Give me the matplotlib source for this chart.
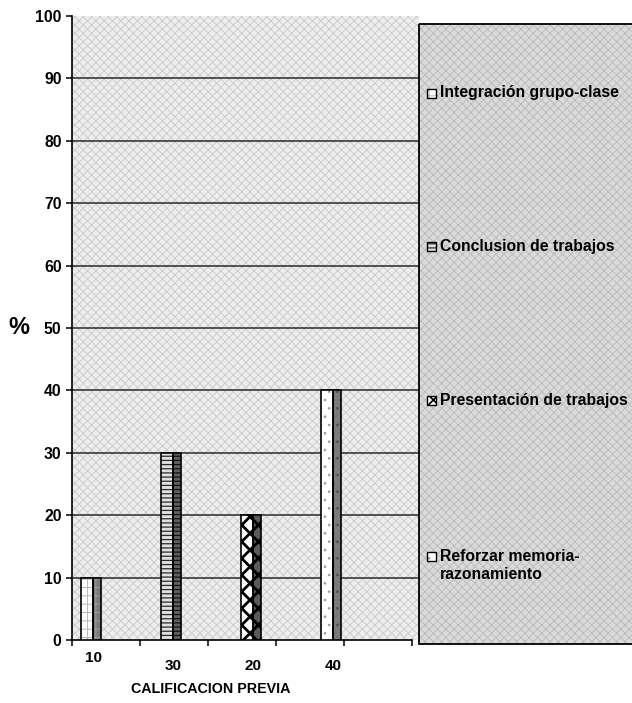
import matplotlib
matplotlib.use("Agg")
import matplotlib.pyplot as plt
import matplotlib.transforms as mtransforms
from matplotlib.patches import Rectangle
import numpy as np

plt.rcParams["font.family"] = ["Liberation Sans", "DejaVu Sans"]
plt.rcParams["font.weight"] = "bold"
plt.rcParams["hatch.linewidth"] = 0.7

# ---- data -------------------------------------------------------------
series = [
    "Integración grupo-clase",
    "Conclusion de trabajos",
    "Presentación de trabajos",
    "Reforzar memoria-\nrazonamiento",
]
values = [10, 30, 20, 40]
category_labels = ["10", "30", "20", "40"]
y_ticks = list(range(0, 101, 10))
y_label = "%"
x_label = "CALIFICACION PREVIA"

# ---- fill styles for each series (front face / shaded side face) -----
styles = [
    dict(face="#ffffff", hatch="++", hcol="#b8b8b8", side="#7a7a7a", shatch="++", shcol="#9a9a9a", hlw=0.7),
    dict(face="#e0e0e0", hatch="----", hcol="#2a2a2a", side="#606060", shatch="----", shcol="#101010", hlw=0.9),
    dict(face="#ffffff", hatch="xx", hcol="#000000", side="#5a5a5a", shatch="xx", shcol="#000000", hlw=2.0),
    dict(face="#ffffff", hatch="..", hcol="#a0a0a0", side="#7a7a7a", shatch="..", shcol="#505050", hlw=0.7),
]


def hatched(xy, w, h, face, hcol, hatch, hlw, z, **kw):
    p = Rectangle(xy, w, h, facecolor=face, edgecolor=hcol, hatch=hatch,
                  linewidth=0, zorder=z, **kw)
    if hasattr(p, "set_hatch_linewidth"):
        p.set_hatch_linewidth(hlw)
    return p


W, H = 632, 703
fig = plt.figure(figsize=(W / 100, H / 100), dpi=100)
fig.patch.set_facecolor("white")

# ---- plot area ---------------------------------------------------------
ax = fig.add_axes([72 / W, 1 - 640 / H, (419 - 72) / W, (640 - 16) / H])
ax.set_facecolor("#eeeeee")
ax.add_patch(hatched((0, 0), 1, 1, "none", "#cdcdcd", "xxxx", 0.7, 0.5,
                     transform=ax.transAxes))
x0, x1 = -0.184, 4.154
ax.set_xlim(x0, x1)
ax.set_ylim(0, 100)

for t in y_ticks[1:-1]:
    ax.axhline(t, color="#2a2a2a", linewidth=1.1, zorder=1)

front_w, side_w = 0.15, 0.107
for i, (v, st) in enumerate(zip(values, styles)):
    # front face
    ax.add_patch(hatched((i - front_w / 2, 0), front_w, v, st["face"], st["hcol"],
                         st["hatch"], st["hlw"], 3))
    ax.add_patch(Rectangle((i - front_w / 2, 0), front_w, v, facecolor="none",
                           edgecolor="black", linewidth=1.2, zorder=4))
    # side face giving the column its depth
    ax.add_patch(hatched((i + front_w / 2, 0), side_w, v, st["side"], st["shcol"],
                         st["shatch"], st["hlw"], 3))
    ax.add_patch(Rectangle((i + front_w / 2, 0), side_w, v, facecolor="none",
                           edgecolor="black", linewidth=1.2, zorder=4))

for s in ["top", "right"]:
    ax.spines[s].set_visible(False)
ax.spines["left"].set_linewidth(1.2)
ax.spines["bottom"].set_linewidth(1.2)
minor_ticks = x0 + 0.85 * np.arange(6)
ax.spines["bottom"].set_bounds(x0, minor_ticks[-1])

ax.set_yticks(y_ticks)
ax.tick_params(axis="y", direction="out", length=4.5, width=1.1, labelsize=11.3, pad=3)
ax.set_xticks(minor_ticks)
ax.set_xticklabels([])
ax.tick_params(axis="x", direction="out", length=4, width=1.1)

blend = mtransforms.blended_transform_factory(ax.transData, ax.transAxes)
label_y = [-0.029, -0.042, -0.042, -0.042]
for i, (lab, ly) in enumerate(zip(category_labels, label_y)):
    ax.text(i + 0.08, ly, lab, transform=blend, ha="center", va="center",
            fontsize=11, fontweight="bold")

fig.text(211 / W, 1 - 689 / H, x_label, ha="center", va="center",
         fontsize=10.3, fontweight="bold")
fig.text(19 / W, 1 - 327 / H, y_label, ha="center", va="center",
         fontsize=17, fontweight="bold")

# ---- legend panel ------------------------------------------------------
lax = fig.add_axes([419 / W, 1 - 644 / H, (660 - 419) / W, (644 - 24) / H])
lax.set_xlim(419, 660)
lax.set_ylim(644, 24)
lax.axis("off")
lax.add_patch(hatched((419, 24), 241, 620, "#dadada", "#bcbcbc", "xxxx", 0.7, 0))
lax.add_patch(Rectangle((419, 24), 241, 620, facecolor="none", edgecolor="black",
                        linewidth=1.3, zorder=1, clip_on=False))

entry_y = [93.5, 247, 401, 557]
for name, st, ey in zip(series, styles, entry_y):
    lax.add_patch(hatched((427, ey - 4.5), 9, 9, st["face"], st["hcol"],
                          st["hatch"], min(st["hlw"], 1.2), 2))
    lax.add_patch(Rectangle((427, ey - 4.5), 9, 9, facecolor="none", edgecolor="black",
                            linewidth=1.0, zorder=3))
    lax.text(440, ey - 8, name, ha="left", va="top", fontsize=11.3, fontweight="bold",
             linespacing=1.25, zorder=4)

fig.savefig("out.png", dpi=100)
